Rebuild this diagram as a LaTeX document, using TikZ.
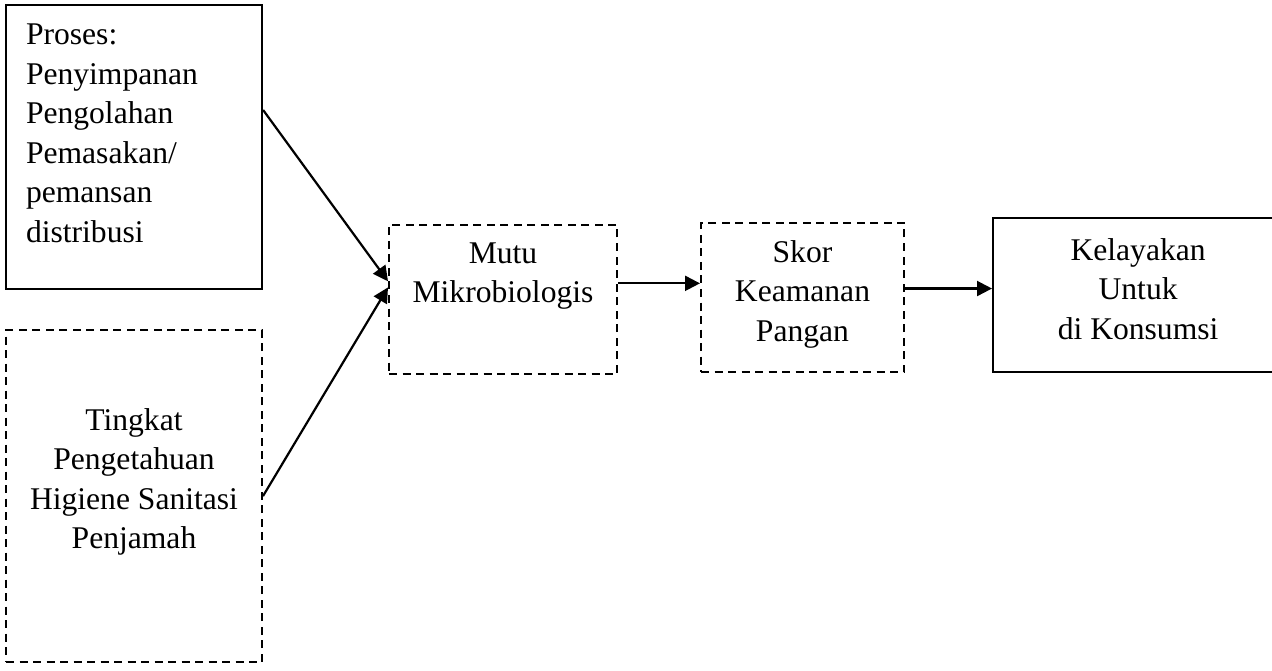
\documentclass[tikz,border=0pt]{standalone}
\usepackage{fontspec}
\setmainfont{Liberation Serif}
\usetikzlibrary{positioning, arrows.meta}

\newcommand{\diagfont}{\fontsize{31.6}{39.5}\selectfont}

\begin{document}
\begin{tikzpicture}[x=1pt, y=-1pt,
    solidbox/.style={draw, rectangle, line width=2.2pt, inner sep=0pt, align=center, font=\diagfont},
    dashbox/.style={solidbox, line width=2pt, dash pattern=on 8pt off 5.5pt},
    arr/.style={-{Triangle[length=15pt, width=15pt]}, line width=2.2pt}]
    \path[use as bounding box, clip] (0,0) rectangle (1272,671);

    % Input factors
    \node[solidbox, minimum width=256pt, minimum height=284pt, text width=216pt, inner xsep=20pt, align=left, text depth=225pt] (proses) at (134,147) {Proses:\\ Penyimpanan\\ Pengolahan\\ Pemasakan/\\ pemansan\\ distribusi};

    \node[dashbox, minimum width=256pt, minimum height=332pt, below=39pt of proses, text depth=35pt] (tingkat) {Tingkat\\ Pengetahuan\\ Higiene Sanitasi\\ Penjamah};

    % Outcome chain
    \node[dashbox, minimum width=228pt, minimum height=149pt, text depth=54pt] (mutu) at (503,299.5) {Mutu\\ Mikrobiologis};

    \node[dashbox, minimum width=203pt, minimum height=149pt, right=82pt of mutu, yshift=2pt, text depth=13.5pt] (skor) {Skor\\ Keamanan\\ Pangan};

    \node[solidbox, minimum width=290pt, minimum height=154pt, right=87pt of skor, yshift=2.5pt, text depth=12.5pt] (layak) {Kelayakan\\ Untuk\\ di Konsumsi};

    % Connections
    \draw[arr] (proses.16) -- (mutu.171);
    \draw[arr] (tingkat.east) -- (mutu.174);
    \draw[arr] (mutu.8) -- (mutu.8 -| skor.west);
    \draw[arr] (skor.5) -- (skor.5 -| layak.west);

\end{tikzpicture}
\end{document}
